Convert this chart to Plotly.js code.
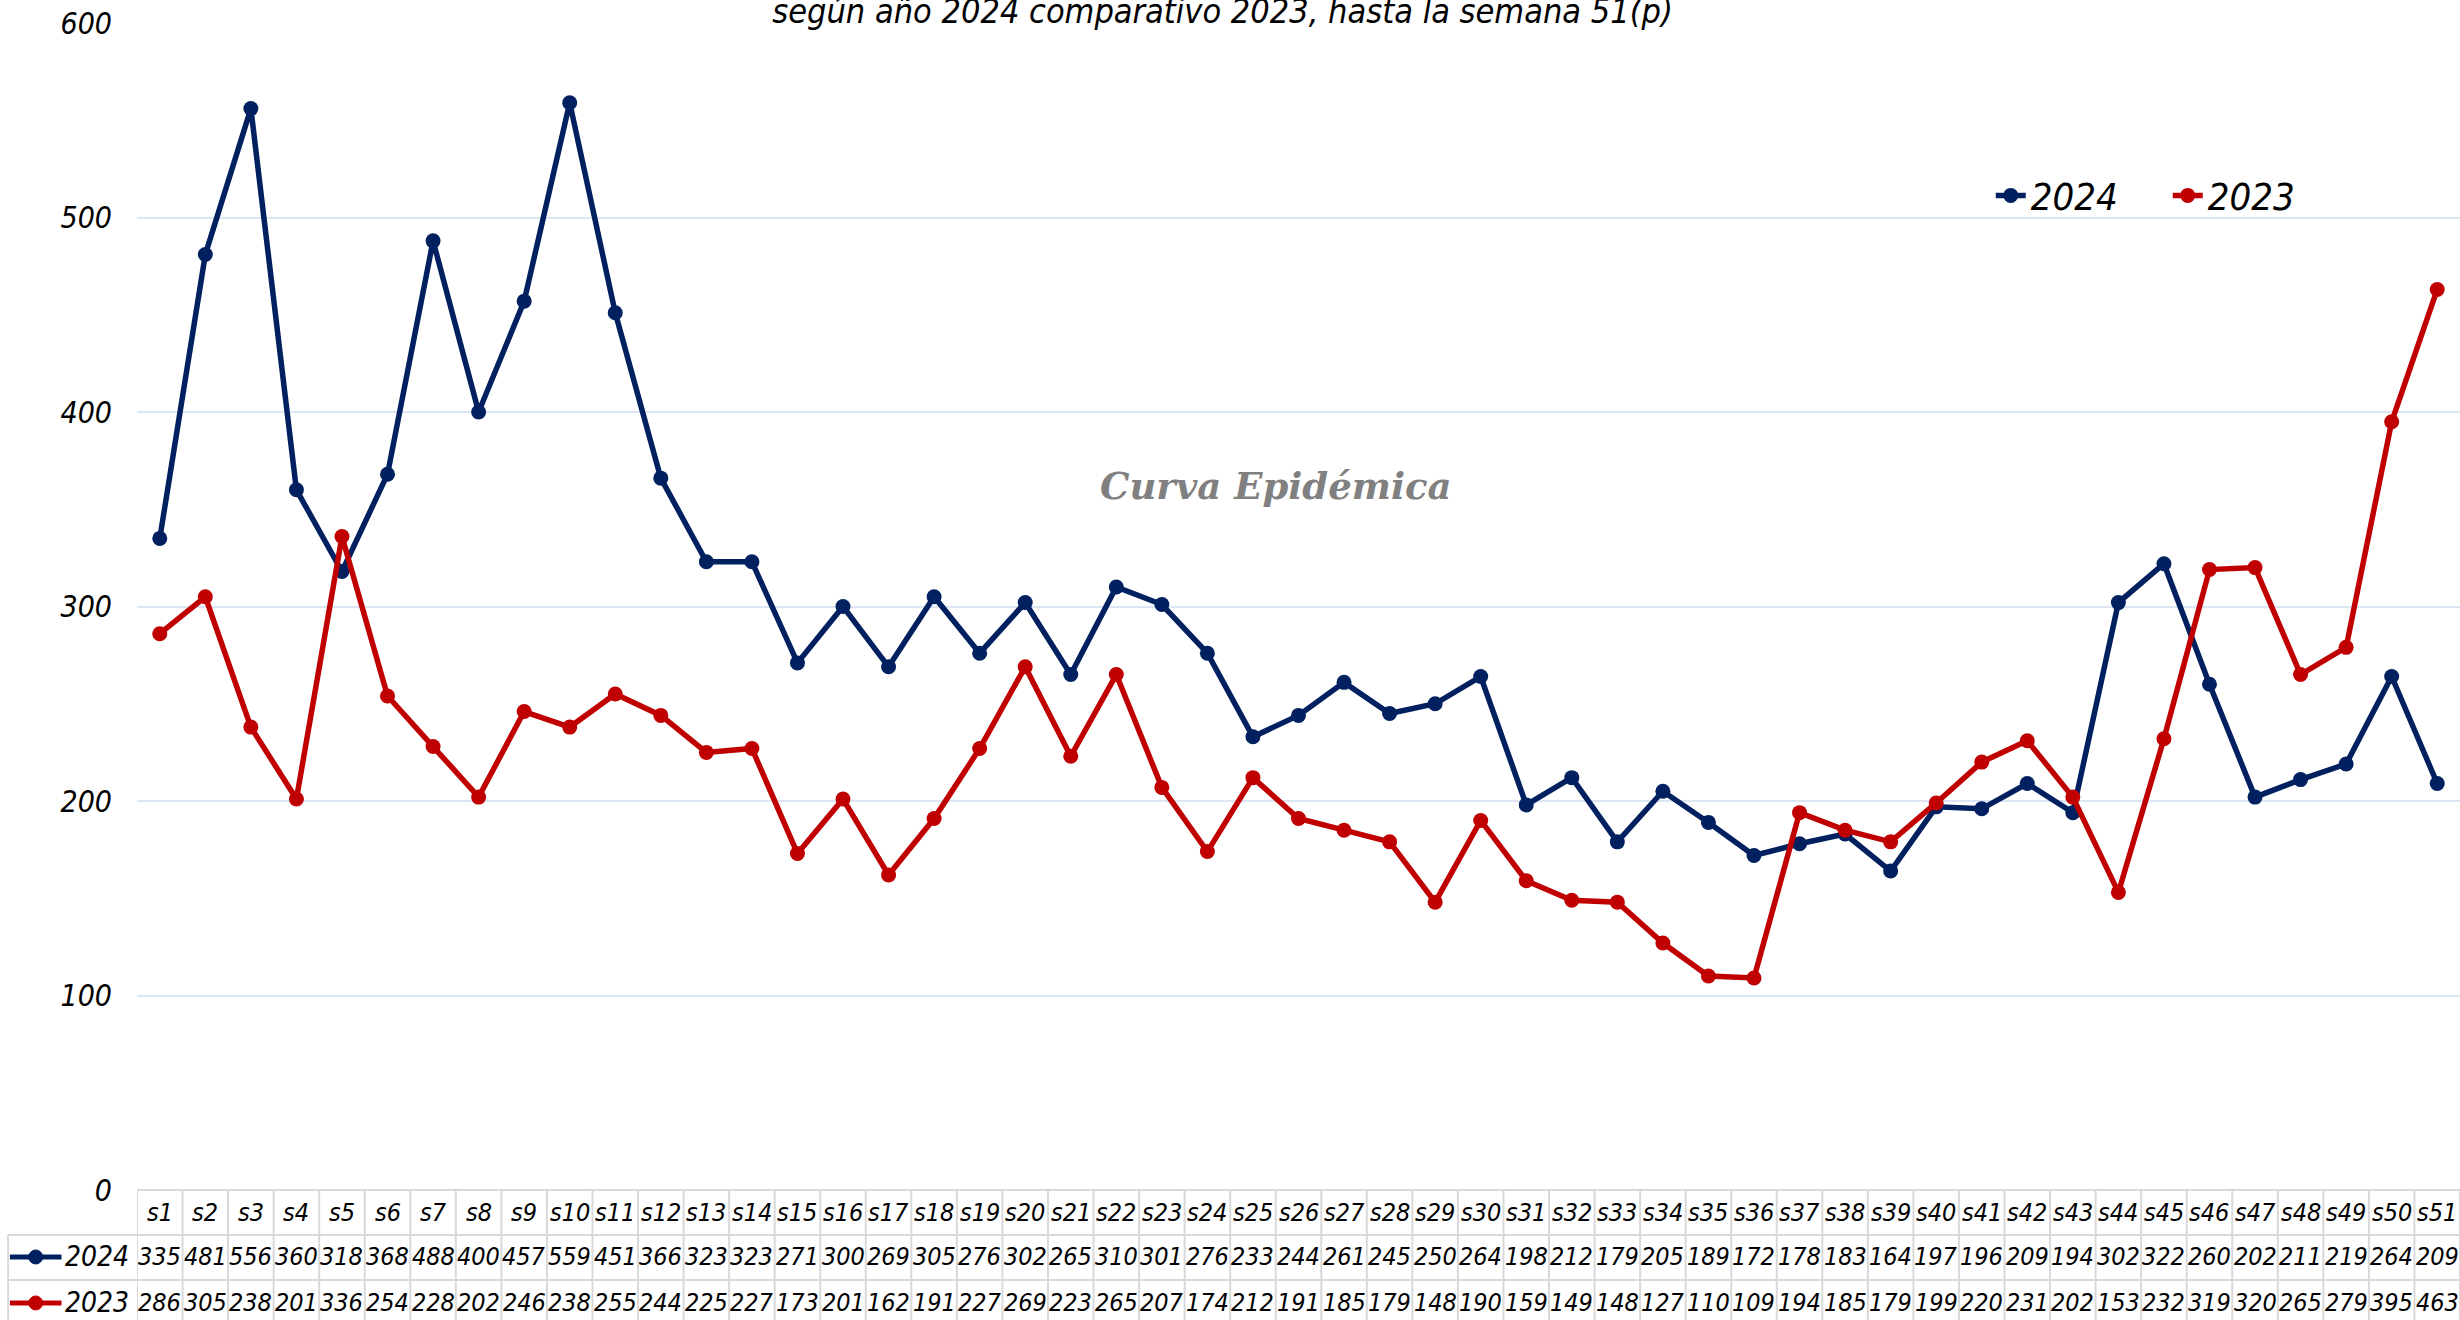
<!DOCTYPE html>
<html>
<head>
<meta charset="utf-8">
<script src="https://cdn.plot.ly/plotly-3.0.1.min.js"></script>
<style>
  html, body { margin: 0; padding: 0; background: #ffffff; }
  #chart { width: 2460px; height: 1320px; }
</style>
</head>
<body>
<div id="chart"></div>
<script>
const weeks = ['s1','s2','s3','s4','s5','s6','s7','s8','s9','s10','s11','s12','s13','s14','s15','s16','s17','s18','s19','s20','s21','s22','s23','s24','s25','s26','s27','s28','s29','s30','s31','s32','s33','s34','s35','s36','s37','s38','s39','s40','s41','s42','s43','s44','s45','s46','s47','s48','s49','s50','s51'];
const cases2024 = [335,481,556,360,318,368,488,400,457,559,451,366,323,323,271,300,269,305,276,302,265,310,301,276,233,244,261,245,250,264,198,212,179,205,189,172,178,183,164,197,196,209,194,302,322,260,202,211,219,264,209];
const cases2023 = [286,305,238,201,336,254,228,202,246,238,255,244,225,227,173,201,162,191,227,269,223,265,207,174,212,191,185,179,148,190,159,149,148,127,110,109,194,185,179,199,220,231,202,153,232,319,320,265,279,395,463];
const seriesNames = ['2024', '2023'];
const seriesColors = ['#002060', '#c00000'];
const titleText = 'según año 2024 comparativo 2023, hasta la semana 51(p)';
const watermarkText = 'Curva Epidémica';
const yTicks = [0, 100, 200, 300, 400, 500, 600];

const FONT = '"Liberation Sans Narrow", "DejaVu Sans Condensed", "Arial Narrow", sans-serif';
const seriesValues = [cases2024, cases2023];

const traces = seriesValues.map((vals, k) => ({
  type: 'scatter',
  mode: 'lines+markers',
  name: seriesNames[k],
  x: weeks,
  y: vals,
  line: { color: seriesColors[k], width: 5.5 },
  marker: { color: seriesColors[k], size: 15 },
  cliponaxis: false
}));

// table geometry (paper coords below plot area)
const rowY = { header: -0.0197, r1: -0.0574, r2: -0.0968 };
const lineY = { top: 0, l1: -0.0386, l2: -0.0771, bottom: -0.13 };
const gridGray = '#d9d9d9';
const TABLE_SIZE = 25;

const annotations = [];
const shapes = [];

function cell(x, y, text) {
  return { x: x, xref: 'x', y: y, yref: 'paper', text: text, showarrow: false,
    font: { family: FONT, size: TABLE_SIZE, color: '#000', style: 'italic' }, xanchor: 'center', yanchor: 'middle' };
}
weeks.forEach((w, i) => {
  annotations.push(cell(w, rowY.header, w));
  annotations.push(cell(w, rowY.r1, String(cases2024[i])));
  annotations.push(cell(w, rowY.r2, String(cases2023[i])));
});
for (let i = 0; i <= weeks.length; i++) {
  shapes.push({ type: 'line', xref: 'x', yref: 'paper', x0: i - 0.5, x1: i - 0.5, y0: lineY.top, y1: lineY.bottom,
    line: { color: gridGray, width: 2 } });
}
// horizontal table lines
shapes.push({ type: 'line', xref: 'paper', yref: 'paper', x0: 0, x1: 1, y0: 0, y1: 0, line: { color: gridGray, width: 2 } });
shapes.push({ type: 'line', xref: 'paper', yref: 'paper', x0: -0.0555, x1: 1, y0: lineY.l1, y1: lineY.l1, line: { color: gridGray, width: 2 } });
shapes.push({ type: 'line', xref: 'paper', yref: 'paper', x0: -0.0555, x1: 1, y0: lineY.l2, y1: lineY.l2, line: { color: gridGray, width: 2 } });
shapes.push({ type: 'line', xref: 'paper', yref: 'paper', x0: -0.0555, x1: -0.0555, y0: lineY.l1, y1: lineY.bottom, line: { color: gridGray, width: 2 } });

// row labels with key glyphs
[rowY.r1, rowY.r2].forEach((yy, k) => {
  annotations.push({ x: -0.0025, xref: 'paper', y: yy, yref: 'paper', text: seriesNames[k], showarrow: false,
    font: { family: FONT, size: 28, color: '#000', style: 'italic' }, xanchor: 'right', yanchor: 'middle' });
  shapes.push({ type: 'line', xref: 'paper', yref: 'paper', x0: -0.0547, x1: -0.0325, y0: yy, y1: yy,
    line: { color: seriesColors[k], width: 5 } });
  shapes.push({ type: 'circle', xref: 'paper', yref: 'paper', x0: -0.0466, x1: -0.0406, y0: yy - 0.006, y1: yy + 0.006,
    fillcolor: seriesColors[k], line: { color: seriesColors[k], width: 1 } });
});

// watermark
annotations.push({ x: 0.490, xref: 'paper', y: 0.603, yref: 'paper', text: watermarkText, showarrow: false,
  font: { family: '"DejaVu Serif", "Liberation Serif", serif', size: 37, color: '#808080', style: 'italic', weight: 'bold' },
  xanchor: 'center', yanchor: 'middle' });

const layout = {
  width: 2460,
  height: 1320,
  paper_bgcolor: '#ffffff',
  plot_bgcolor: '#ffffff',
  margin: { l: 137, r: 0, t: 23, b: 130, pad: 0 },
  title: {
    text: titleText,
    font: { family: FONT, size: 34, color: '#000', style: 'italic' },
    x: 0.497, xanchor: 'center',
    y: 1.009, yanchor: 'middle', yref: 'container'
  },
  showlegend: true,
  legend: {
    orientation: 'h',
    x: 0.798, xanchor: 'left',
    y: 0.852, yanchor: 'middle',
    font: { family: FONT, size: 38, color: '#000', style: 'italic' },
    bgcolor: 'rgba(0,0,0,0)',
    entrywidth: 132, entrywidthmode: 'pixels'
  },
  xaxis: {
    type: 'category',
    range: [-0.5, weeks.length - 0.5],
    showgrid: false,
    zeroline: false,
    showline: false,
    showticklabels: false,
    ticks: ''
  },
  yaxis: {
    range: [0, 600],
    tickvals: yTicks,
    showgrid: true,
    gridcolor: '#dce6f2',
    gridwidth: 2,
    zeroline: false,
    showline: false,
    ticks: '',
    ticklabelstandoff: 24,
    tickfont: { family: FONT, size: 30, color: '#000', style: 'italic' }
  },
  annotations: annotations,
  shapes: shapes
};

Plotly.newPlot('chart', traces, layout, { displayModeBar: false, staticPlot: true });
</script>
</body>
</html>
